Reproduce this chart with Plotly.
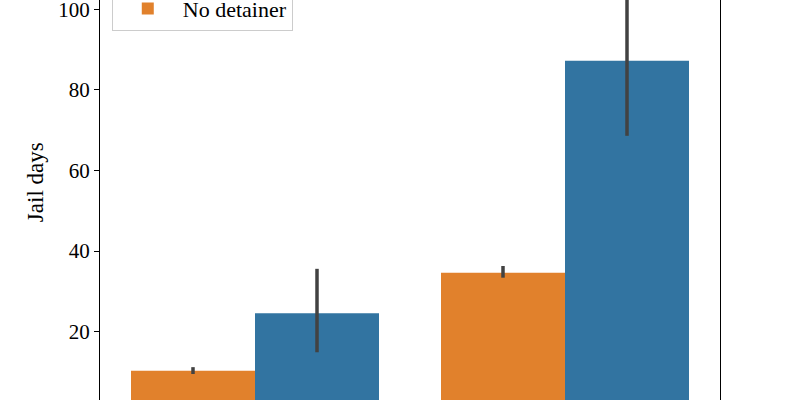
import plotly.graph_objects as go

categories = ["Misdemeanor", "Felony"]
hue_labels = ["No detainer", "Detainer"]
no_detainer_mean = [10.3, 34.6]
no_detainer_hi = [11.2, 36.3]
no_detainer_lo = [9.5, 33.4]
detainer_mean = [24.6, 87.2]
detainer_hi = [35.6, 106.0]
detainer_lo = [14.9, 68.6]
y_ticks = [20, 40, 60, 80, 100]
y_label = "Jail days"

ORANGE = "#e1812c"
BLUE = "#3274a1"
ERR = "#424242"
FONT = "Liberation Serif"


def err(mean, hi, lo):
    return dict(type="data", symmetric=False,
                array=[h - m for h, m in zip(hi, mean)],
                arrayminus=[m - l for m, l in zip(mean, lo)],
                color=ERR, thickness=3.5, width=0)


fig = go.Figure()
fig.add_trace(go.Bar(x=categories, y=no_detainer_mean, name=hue_labels[0],
                     marker=dict(color=ORANGE, line=dict(width=0)),
                     error_y=err(no_detainer_mean, no_detainer_hi, no_detainer_lo)))
fig.add_trace(go.Bar(x=categories, y=detainer_mean, name=hue_labels[1],
                     marker=dict(color=BLUE, line=dict(width=0)),
                     error_y=err(detainer_mean, detainer_hi, detainer_lo)))

fig.update_layout(
    width=800, height=400,
    margin=dict(l=100, r=80, t=0, b=0, autoexpand=False),
    paper_bgcolor="white", plot_bgcolor="white",
    barmode="group", bargap=0.2, bargroupgap=0,
    font=dict(family=FONT, size=21, color="black"),
    showlegend=True,
    legend=dict(x=0.019, xanchor="left", y=0.9225, yanchor="bottom",
                traceorder="reversed", bgcolor="white",
                bordercolor="#cccccc", borderwidth=1, itemwidth=60,
                font=dict(family=FONT, size=22, color="black")),
    xaxis=dict(range=[-0.5, 1.5], showticklabels=False, ticks="",
               showline=False, showgrid=False, zeroline=False),
    yaxis=dict(range=[3.05, 102.3], tickvals=y_ticks, ticks="outside",
               ticklen=5, tickwidth=1, tickcolor="black",
               ticklabelstandoff=0, ticklabeloverflow="allow",
               tickfont=dict(family=FONT, size=21),
               showline=True, linecolor="black", linewidth=1.2, mirror=True,
               showgrid=False, zeroline=False),
    annotations=[dict(text=y_label, textangle=-90, showarrow=False,
                      xref="paper", yref="paper", x=-0.103, y=0.545,
                      xanchor="center", yanchor="middle",
                      font=dict(family=FONT, size=23, color="black"))],
)

fig.write_html("out.html",
               config={"displayModeBar": False},
               post_script="document.body.style.margin='0';document.body.style.overflow='hidden';")
